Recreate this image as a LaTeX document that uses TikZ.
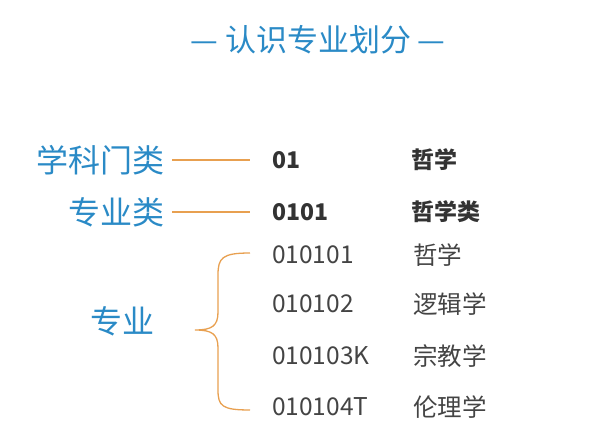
\documentclass[tikz,border=0pt]{standalone}
\usepackage{fontspec}
\newfontfamily\cjk{Noto Sans CJK SC}
\setmainfont{Noto Sans CJK SC}
\definecolor{tblue}{HTML}{2A8AC6}
\definecolor{tor}{HTML}{E8A050}
\definecolor{tgray}{HTML}{444444}
\begin{document}
\begin{tikzpicture}[x=1pt,y=-1pt,
  lab/.style={text=tblue,font=\fontsize{32}{36}\selectfont,inner sep=0,anchor=east},
  code/.style={text=tgray,font=\fontsize{24.5}{28}\selectfont,inner sep=0,anchor=west},
  conn/.style={draw=tor,line width=1.3pt}]
\useasboundingbox (0,0) rectangle (600,443);
\node[text=tblue,font=\fontsize{31}{34}\selectfont] (t) at (318,40) {— 认识专业划分 —};
\node[lab] (a) at (165,160) {学科门类};
\node[lab] (b) at (165,212) {专业类};
\node[lab,anchor=center] (c) at (122,321) {专业};
\coordinate (a1) at (172,160); \coordinate (a2) at (250,160);
\coordinate (b1) at (172,212); \coordinate (b2) at (250,212);
\draw[conn] (a1) -- (a2);
\draw[conn] (b1) -- (b2);
\draw[conn] (250,253) .. controls (222,253) and (218,258) .. (218,275) -- (218,312)
  .. controls (218,326) and (212,330) .. (195,330)
  .. controls (212,330) and (218,334) .. (218,348) -- (218,390)
  .. controls (218,406) and (222,410) .. (250,410);
\foreach \y/\c/\n/\bf [count=\i] in {160/01/哲学/1,212/0101/哲学类/1,255/010101/哲学/0,304/010102/逻辑学/0,356/010103K/宗教学/0,407/010104T/伦理学/0}{
  \ifnum\bf=1
    \node[code,font=\fontsize{23}{26}\selectfont\bfseries,text=black!80] (k\i) at (272,\y) {\c};
    \node[code,font=\fontsize{23}{26}\selectfont\bfseries,text=black!80] (n\i) at (411,\y) {\n};
  \else
    \node[code] (k\i) at (272,\y) {\c};
    \node[code] (n\i) at (413,\y) {\n};
  \fi
}
\end{tikzpicture}
\end{document}
